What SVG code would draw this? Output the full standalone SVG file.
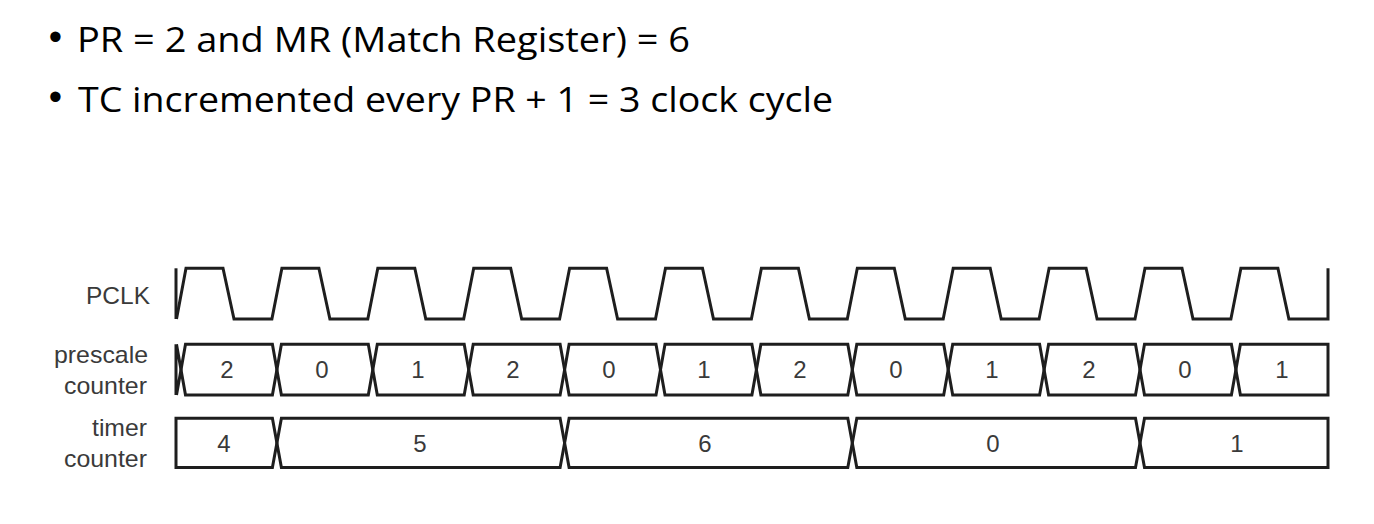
<svg xmlns="http://www.w3.org/2000/svg" width="1374" height="524" viewBox="0 0 1374 524">
<style>
.title{font-family:"Open Sans","Liberation Sans",sans-serif;font-size:34px;fill:#000}
.bullet{font-family:"Liberation Sans",Arial,sans-serif;font-size:38px;fill:#000}
.lbl{font-family:"Liberation Sans",Arial,sans-serif;font-size:24px;fill:#3a3a3a;text-anchor:end}
.val{font-family:"Liberation Sans",Arial,sans-serif;font-size:24px;fill:#3a3a3a;text-anchor:middle}
.wave{fill:none;stroke:#1e1e1e;stroke-width:3;stroke-linejoin:miter;stroke-miterlimit:10}
</style>
<rect width="1374" height="524" fill="#ffffff"/>
<g id="title">
<text class="bullet" x="55.5" y="50" text-anchor="middle">•</text>
<text class="title" x="77" y="52.3" textLength="613" lengthAdjust="spacingAndGlyphs">PR = 2 and MR (Match Register) = 6</text>
<text class="bullet" x="55.5" y="110" text-anchor="middle">•</text>
<text class="title" x="78" y="111.7" textLength="755" lengthAdjust="spacingAndGlyphs">TC incremented every PR + 1 = 3 clock cycle</text>
</g>
<g id="labels">
<text class="lbl" x="150" y="303.5" textLength="64" lengthAdjust="spacingAndGlyphs">PCLK</text>
<text class="lbl" x="148" y="363" textLength="94" lengthAdjust="spacingAndGlyphs">prescale</text>
<text class="lbl" x="147" y="394" textLength="83" lengthAdjust="spacingAndGlyphs">counter</text>
<text class="lbl" x="147" y="436" textLength="55" lengthAdjust="spacingAndGlyphs">timer</text>
<text class="lbl" x="147" y="467" textLength="83" lengthAdjust="spacingAndGlyphs">counter</text>
</g>
<g id="pclk">
<path class="wave" d="M176,268.3 L176,319"/>
<path class="wave" d="M176.5,319 L186,268.3 L223,268.3 L234,319 L271.9,319 L281.9,268.3 L318.9,268.3 L329.9,319 L367.8,319 L377.8,268.3 L414.8,268.3 L425.8,319 L463.7,319 L473.7,268.3 L510.7,268.3 L521.7,319 L559.6,319 L569.6,268.3 L606.6,268.3 L617.6,319 L655.5,319 L665.5,268.3 L702.5,268.3 L713.5,319 L751.4,319 L761.4,268.3 L798.4,268.3 L809.4,319 L847.3,319 L857.3,268.3 L894.3,268.3 L905.3,319 L943.2,319 L953.2,268.3 L990.2,268.3 L1001.2,319 L1039.1,319 L1049.1,268.3 L1086.1,268.3 L1097.1,319 L1135,319 L1145,268.3 L1182,268.3 L1193,319 L1230.9,319 L1240.9,268.3 L1277.9,268.3 L1288.9,319 L1328,319 L1328,268.3"/>
</g>
<g id="prescale">
<path class="wave" d="M176,344.3 L176,395 M176.5,344.3 L181,369.7 L176.5,395"/>
<path class="wave" d="M185.5,344.3 L272.4,344.3 L276.9,369.7 L272.4,395 L185.5,395 L181,369.7 Z"/>
<path class="wave" d="M281.4,344.3 L368.3,344.3 L372.8,369.7 L368.3,395 L281.4,395 L276.9,369.7 Z"/>
<path class="wave" d="M377.3,344.3 L464.2,344.3 L468.7,369.7 L464.2,395 L377.3,395 L372.8,369.7 Z"/>
<path class="wave" d="M473.2,344.3 L560.1,344.3 L564.6,369.7 L560.1,395 L473.2,395 L468.7,369.7 Z"/>
<path class="wave" d="M569.1,344.3 L656,344.3 L660.5,369.7 L656,395 L569.1,395 L564.6,369.7 Z"/>
<path class="wave" d="M665,344.3 L751.9,344.3 L756.4,369.7 L751.9,395 L665,395 L660.5,369.7 Z"/>
<path class="wave" d="M760.9,344.3 L847.8,344.3 L852.3,369.7 L847.8,395 L760.9,395 L756.4,369.7 Z"/>
<path class="wave" d="M856.8,344.3 L943.7,344.3 L948.2,369.7 L943.7,395 L856.8,395 L852.3,369.7 Z"/>
<path class="wave" d="M952.7,344.3 L1039.6,344.3 L1044.1,369.7 L1039.6,395 L952.7,395 L948.2,369.7 Z"/>
<path class="wave" d="M1048.6,344.3 L1135.5,344.3 L1140,369.7 L1135.5,395 L1048.6,395 L1044.1,369.7 Z"/>
<path class="wave" d="M1144.5,344.3 L1231.4,344.3 L1235.9,369.7 L1231.4,395 L1144.5,395 L1140,369.7 Z"/>
<path class="wave" d="M1240.4,344.3 L1328,344.3 L1328,395 L1240.4,395 L1235.9,369.7 Z"/>
<text class="val" x="227" y="378.3">2</text>
<text class="val" x="322" y="378.3">0</text>
<text class="val" x="418" y="378.3">1</text>
<text class="val" x="513" y="378.3">2</text>
<text class="val" x="609" y="378.3">0</text>
<text class="val" x="704" y="378.3">1</text>
<text class="val" x="800" y="378.3">2</text>
<text class="val" x="896" y="378.3">0</text>
<text class="val" x="992" y="378.3">1</text>
<text class="val" x="1089" y="378.3">2</text>
<text class="val" x="1185" y="378.3">0</text>
<text class="val" x="1282" y="378.3">1</text>
</g>
<g id="timer">
<path class="wave" d="M176,418.3 L272.4,418.3 L276.9,442.9 L272.4,467.5 L176,467.5 Z"/>
<path class="wave" d="M281.4,418.3 L560.1,418.3 L564.6,442.9 L560.1,467.5 L281.4,467.5 L276.9,442.9 Z"/>
<path class="wave" d="M569.1,418.3 L847.8,418.3 L852.3,442.9 L847.8,467.5 L569.1,467.5 L564.6,442.9 Z"/>
<path class="wave" d="M856.8,418.3 L1135.5,418.3 L1140,442.9 L1135.5,467.5 L856.8,467.5 L852.3,442.9 Z"/>
<path class="wave" d="M1144.5,418.3 L1328,418.3 L1328,467.5 L1144.5,467.5 L1140,442.9 Z"/>
<text class="val" x="224" y="451.5">4</text>
<text class="val" x="420" y="451.5">5</text>
<text class="val" x="705" y="451.5">6</text>
<text class="val" x="993" y="451.5">0</text>
<text class="val" x="1237" y="451.5">1</text>
</g>
</svg>
